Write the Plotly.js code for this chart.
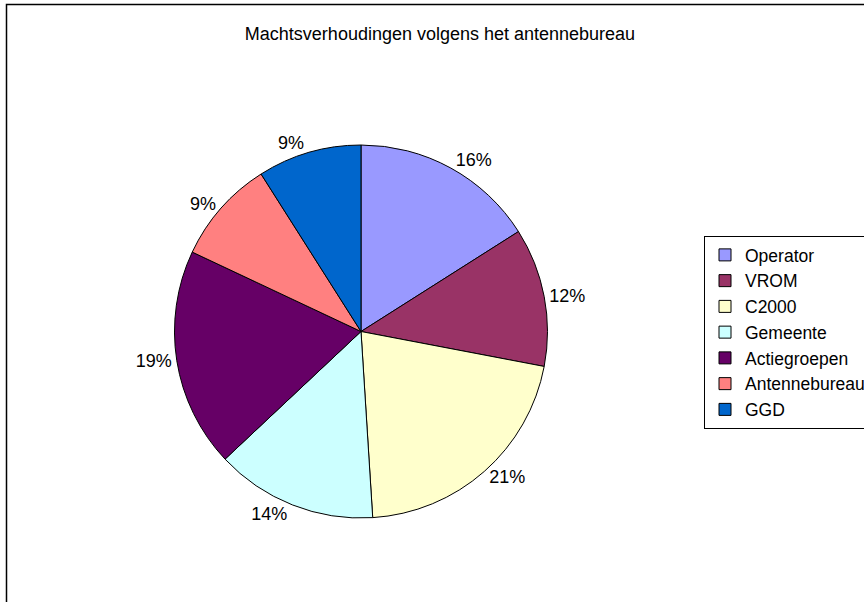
<!DOCTYPE html>
<html>
<head>
<meta charset="utf-8">
<script src="https://cdn.plot.ly/plotly-3.0.1.min.js"></script>
<style>html,body{margin:0;padding:0;background:#fff;}#chart{width:864px;height:602px;}</style>
</head>
<body>
<div id="chart"></div>
<script>
const categories = ["Operator", "VROM", "C2000", "Gemeente", "Actiegroepen", "Antennebureau", "GGD"];
const shares = [16, 12, 21, 14, 19, 9, 9];
const colors = ["#9999FF", "#993366", "#FFFFCC", "#CCFFFF", "#660066", "#FF8080", "#0066CC"];
const chartTitle = "Machtsverhoudingen volgens het antennebureau";

const W = 864, H = 602;
const FONT = "Liberation Sans, Arial, sans-serif";

const trace = {
  type: "pie",
  labels: categories,
  values: shares,
  sort: false,
  direction: "clockwise",
  rotation: 0,
  marker: { colors: colors, line: { color: "#000000", width: 1 } },
  textinfo: "percent",
  texttemplate: "%{percent:.0%}",
  textposition: "outside",
  outsidetextfont: { family: FONT, size: 18, color: "#000000" },
  hoverinfo: "label+percent",
  domain: { x: [174 / W, 548 / W], y: [(H - 518) / H, (H - 145) / H] },
  automargin: false
};

const layout = {
  width: W,
  height: H,
  margin: { l: 0, r: 0, t: 0, b: 0, autoexpand: false },
  paper_bgcolor: "#ffffff",
  font: { family: FONT, size: 18, color: "#000000" },
  title: {
    text: chartTitle,
    font: { family: FONT, size: 18, color: "#000000" },
    x: 440 / W, xanchor: "center", xref: "paper",
    y: 1 - 34 / H, yanchor: "middle", yref: "paper"
  },
  showlegend: true,
  legend: {
    x: 704 / W, xanchor: "left",
    y: 1 - 236 / H, yanchor: "top",
    bordercolor: "#000000", borderwidth: 1,
    bgcolor: "#ffffff",
    font: { family: FONT, size: 17.5, color: "#000000" },
    traceorder: "normal"
  },
  shapes: [{
    type: "rect", xref: "paper", yref: "paper",
    x0: 6.5 / W, x1: 1.2, y0: -0.2, y1: 1 - 4.5 / H,
    line: { color: "#000000", width: 1.5 }, fillcolor: "rgba(0,0,0,0)", layer: "below"
  }]
};

Plotly.newPlot("chart", [trace], layout, { displayModeBar: false, staticPlot: true });
</script>
</body>
</html>
